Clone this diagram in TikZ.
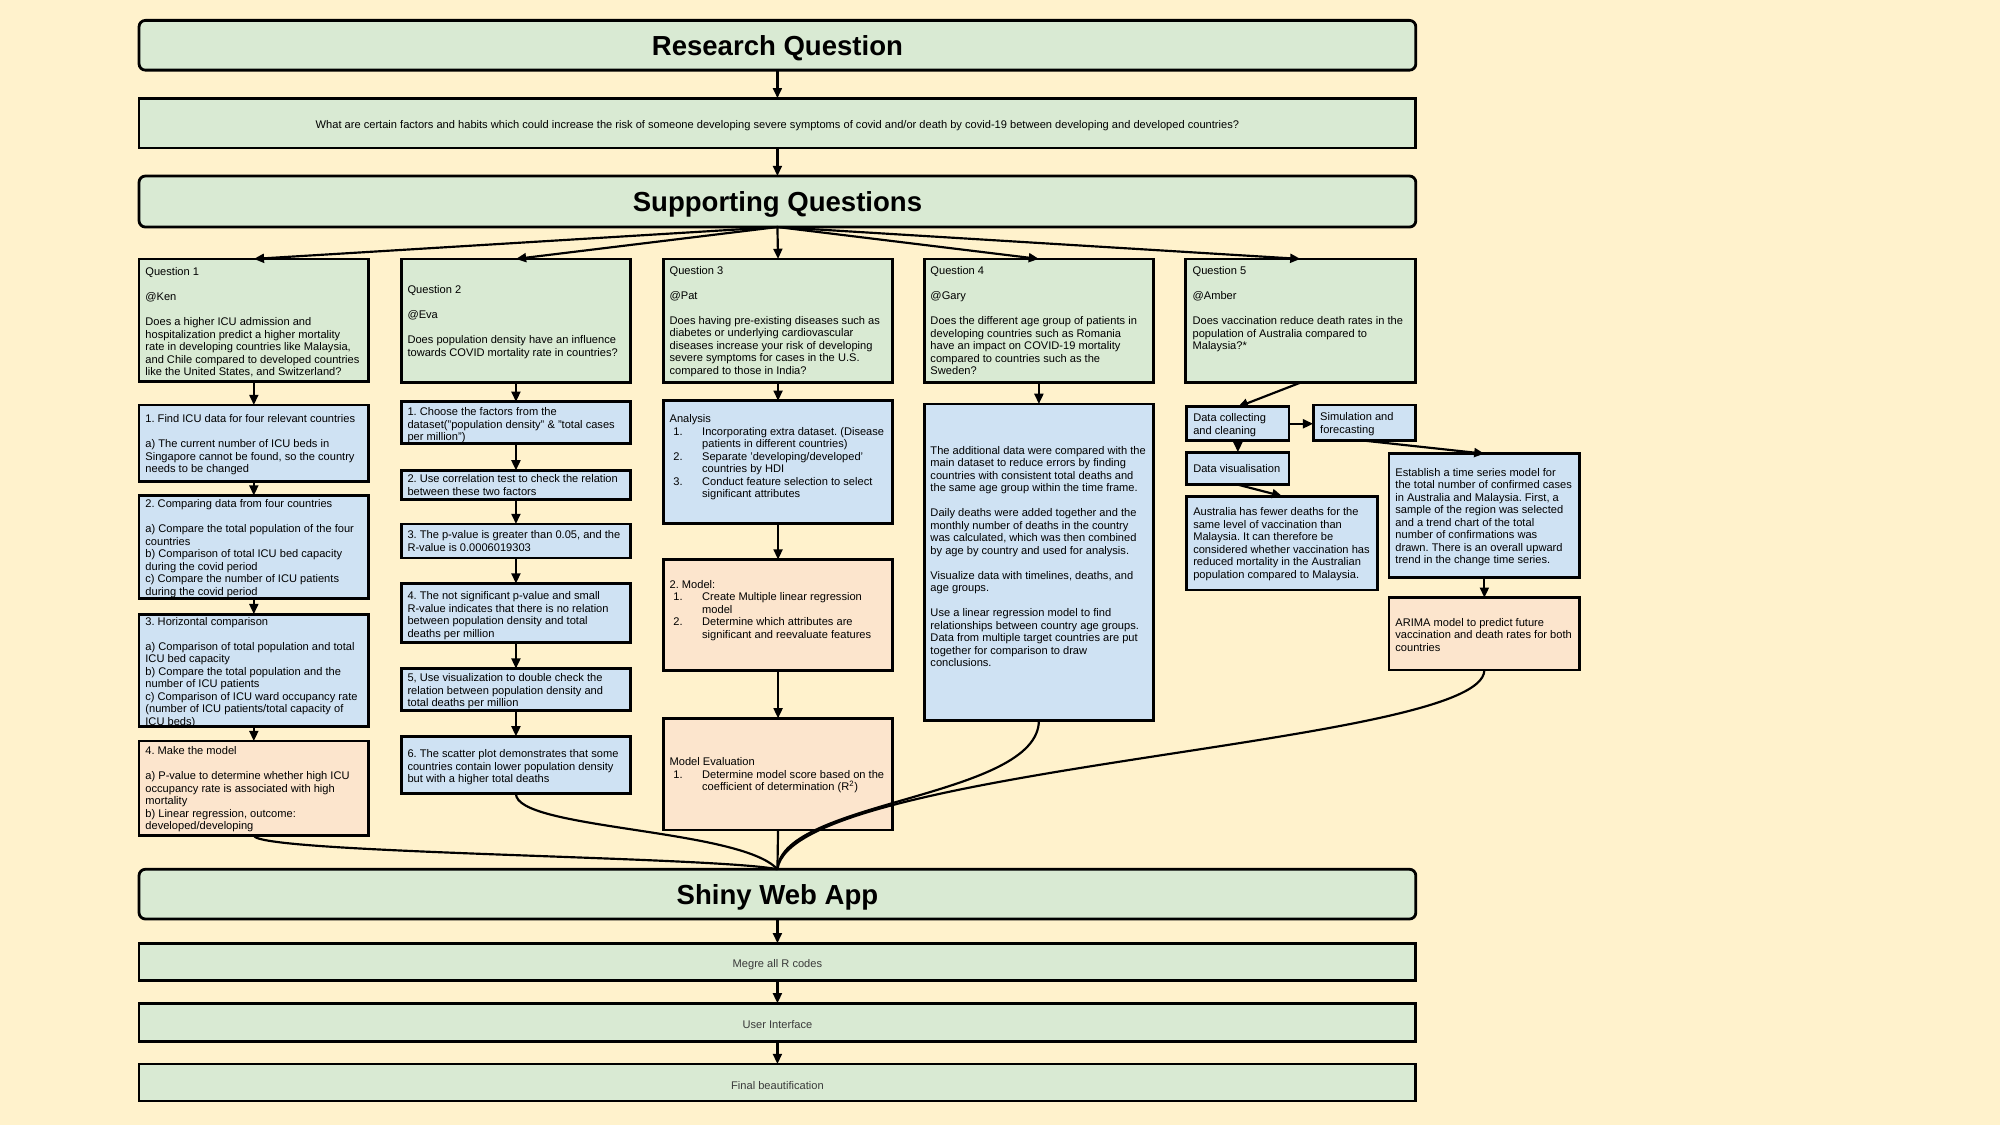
\documentclass[tikz,border=0pt]{standalone}
\usepackage{fontspec}
\setmainfont{Liberation Sans}
\usetikzlibrary{arrows.meta,calc}
\definecolor{bgc}{HTML}{FFF2CC}
\definecolor{cg}{HTML}{D9EAD3}
\definecolor{cb}{HTML}{CFE2F3}
\definecolor{co}{HTML}{FCE5CD}
\definecolor{gtx}{HTML}{3A3A3A}
\newcommand\bodyfs{\fontsize{8.7}{9.8}\selectfont\frenchspacing}
\newcommand\smallfs{\fontsize{8.7}{9.8}\selectfont\frenchspacing}
\newcommand\titlefs{\fontsize{21.6}{24}\selectfont\bfseries}
\newcommand\li[1]{\hspace*{3pt}\makebox[22.5pt][l]{#1}}
\newcommand\lc{\hspace*{25.5pt}}
\newcommand\sq{{\char"27}}
\newcommand\dq{{\char"22}}
\begin{document}
\begin{tikzpicture}[x=1pt,y=-1pt,
  bx/.style={draw=black, line width=2.2pt, anchor=north west, inner sep=0pt, outer sep=0pt},
  rbx/.style={bx, rounded corners=5pt},
  tx/.style={anchor=north west, inner sep=0pt, outer sep=0pt, align=left, font=\bodyfs, text=black},
  ttl/.style={font=\titlefs, yshift=-2.5pt},
  ctx/.style={font=\smallfs, yshift=-2pt},
  ar/.style={-{Triangle[length=8pt,width=7pt]}, line width=1.7pt},
  ln/.style={line width=1.7pt},
]
\fill[bgc] (0,0) rectangle (1568,882);
\useasboundingbox (0,0) rectangle (1568,882);

% top boxes
\node[rbx, fill=cg, minimum width=1001pt, minimum height=39pt] (rq) at (109,16) {};
\node[ttl] (rqt) at (rq.center) {Research Question};
\node[bx, fill=cg, minimum width=1001pt, minimum height=39pt] (mq) at (109,77) {};
\node[ctx] (mqt) at (mq.center) {What are certain factors and habits which could increase the risk of someone developing severe symptoms of covid and/or death by covid-19 between developing and developed countries?};
\node[rbx, fill=cg, minimum width=1001pt, minimum height=40pt] (sq) at (109,138) {};
\node[ttl] (sqt) at (sq.center) {Supporting Questions};

% question boxes
\node[bx, fill=cg, minimum width=180pt, minimum height=96pt] (q1) at (109,203) {};
\node[bx, fill=cg, minimum width=180pt, minimum height=97pt] (q2) at (314.5,203) {};
\node[bx, fill=cg, minimum width=180pt, minimum height=97pt] (q3) at (520,203) {};
\node[bx, fill=cg, minimum width=180pt, minimum height=97pt] (q4) at (724.5,203) {};
\node[bx, fill=cg, minimum width=180pt, minimum height=97pt] (q5) at (929.5,203) {};

\node[tx] (q1t) at (114,209.9) {Question 1\\[9.8pt]@Ken\\[9.8pt]Does a higher ICU admission and\\hospitalization predict a higher mortality\\rate in developing countries like Malaysia,\\and Chile compared to developed countries\\like the United States, and Switzerland?};
\node[tx] (q2t) at (319.5,223.9) {Question 2\\[9.8pt]@Eva\\[9.8pt]Does population density have an influence\\towards COVID mortality rate in countries?};
\node[tx] (q3t) at (525,208.7) {Question 3\\[9.8pt]@Pat\\[9.8pt]Does having pre-existing diseases such as\\diabetes or underlying cardiovascular\\diseases increase your risk of developing\\severe symptoms for cases in the U.S.\\compared to those in India?};
\node[tx] (q4t) at (729.5,209) {Question 4\\[9.8pt]@Gary\\[9.8pt]Does the different age group of patients in\\developing countries such as Romania\\have an impact on COVID-19 mortality\\compared to countries such as the\\Sweden?};
\node[tx] (q5t) at (935,209) {Question 5\\[9.8pt]@Amber\\[9.8pt]Does vaccination reduce death rates in the\\population of Australia compared to\\Malaysia?*};

% column 1
\node[bx, fill=cb, minimum width=180pt, minimum height=60pt] (a1) at (109,317.5) {};
\node[bx, fill=cb, minimum width=180pt, minimum height=81pt] (a2) at (109,388.5) {};
\node[bx, fill=cb, minimum width=180pt, minimum height=88pt] (a3) at (109,481.5) {};
\node[bx, fill=co, minimum width=180pt, minimum height=74pt] (a4) at (109,581) {};
\node[tx] (a1t) at (114,325) {1. Find ICU data for four relevant countries\\[9.8pt]a) The current number of ICU beds in\\Singapore cannot be found, so the country\\needs to be changed};
\node[tx] (a2t) at (114,391.7) {2. Comparing data from four countries\\[9.8pt]a) Compare the total population of the four\\countries\\b) Comparison of total ICU bed capacity\\during the covid period\\c) Compare the number of ICU patients\\during the covid period};
\node[tx] (a3t) at (114,483.7) {3. Horizontal comparison\\[9.8pt]a) Comparison of total population and total\\ICU bed capacity\\b) Compare the total population and the\\number of ICU patients\\c) Comparison of ICU ward occupancy rate\\(number of ICU patients/total capacity of\\ICU beds)};
\node[tx] (a4t) at (114,585.5) {4. Make the model\\[9.8pt]a) P-value to determine whether high ICU\\occupancy rate is associated with high\\mortality\\b) Linear regression, outcome:\\developed/developing};

% column 2
\node[bx, fill=cb, minimum width=180pt, minimum height=33pt] (b1) at (314.5,315) {};
\node[bx, fill=cb, minimum width=180pt, minimum height=23pt] (b2) at (314.5,368.8) {};
\node[bx, fill=cb, minimum width=180pt, minimum height=26.6pt] (b3) at (314.5,410.8) {};
\node[bx, fill=cb, minimum width=180pt, minimum height=46pt] (b4) at (314.5,457.5) {};
\node[bx, fill=cb, minimum width=180pt, minimum height=33pt] (b5) at (314.5,524.2) {};
\node[bx, fill=cb, minimum width=180pt, minimum height=45pt] (b6) at (314.5,577.3) {};
\node[tx] (b1t) at (319.5,319.5) {1. Choose the factors from the\\dataset(\dq population density\dq\ \& \dq total cases\\per million\dq)};
\node[tx] (b2t) at (319.5,372.3) {2. Use correlation test to check the relation\\between these two factors};
\node[tx] (b3t) at (319.5,416.2) {3. The p-value is greater than 0.05, and the\\R-value is 0.0006019303};
\node[tx] (b4t) at (319.5,463.8) {4. The not significant p-value and small\\R-value indicates that there is no relation\\between population density and total\\deaths per million};
\node[tx] (b5t) at (319.5,528.2) {5, Use visualization to double check the\\relation between population density and\\total deaths per million};
\node[tx] (b6t) at (319.5,587.9) {6. The scatter plot demonstrates that some\\countries contain lower population density\\but with a higher total deaths};

% column 3
\node[bx, fill=cb, minimum width=180pt, minimum height=96pt] (an) at (520,314.2) {};
\node[bx, fill=co, minimum width=180pt, minimum height=87pt] (mo) at (520,438.7) {};
\node[bx, fill=co, minimum width=180pt, minimum height=87.5pt] (ev) at (520,563.2) {};
\node[tx] (ant) at (525,325.1) {Analysis\\\li{1.}Incorporating extra dataset. (Disease\\\lc patients in different countries)\\\li{2.}Separate \sq developing/developed\sq\\\lc countries by HDI\\\li{3.}Conduct feature selection to select\\\lc significant attributes};
\node[tx] (mot) at (525,454.7) {2. Model:\\\li{1.}Create Multiple linear regression\\\lc model\\\li{2.}Determine which attributes are\\\lc significant and reevaluate features};
\node[tx] (evt) at (525,594.2) {Model Evaluation\\\li{1.}Determine model score based on the\\\lc coefficient of determination (R\textsuperscript{2})};

% column 4
\node[bx, fill=cb, minimum width=180pt, minimum height=248pt] (c1) at (724.5,316.7) {};
\node[tx] (c1t) at (729.5,349.8) {The additional data were compared with the\\main dataset to reduce errors by finding\\countries with consistent total deaths and\\the same age group within the time frame.\\[9.8pt]Daily deaths were added together and the\\monthly number of deaths in the country\\was calculated, which was then combined\\by age by country and used for analysis.\\[9.8pt]Visualize data with timelines, deaths, and\\age groups.\\[9.8pt]Use a linear regression model to find\\relationships between country age groups.\\Data from multiple target countries are put\\together for comparison to draw\\conclusions.};

% column 5
\node[bx, fill=cb, minimum width=80pt, minimum height=26.5pt] (dc) at (930.5,319) {};
\node[bx, fill=cb, minimum width=80.5pt, minimum height=28pt] (sim) at (1029.5,317.5) {};
\node[bx, fill=cb, minimum width=80pt, minimum height=25.5pt] (dv) at (930.5,354.5) {};
\node[bx, fill=cb, minimum width=149.5pt, minimum height=73.5pt] (au) at (930.5,389) {};
\node[bx, fill=cb, minimum width=149.5pt, minimum height=97pt] (est) at (1089,355.7) {};
\node[bx, fill=co, minimum width=149.5pt, minimum height=56.7pt] (arm) at (1089,468.6) {};
\node[tx] (dct) at (935.5,324.5) {Data collecting\\and cleaning};
\node[tx] (simt) at (1035,323.5) {Simulation and\\forecasting};
\node[tx] (dvt) at (935.5,364.5) {Data visualisation};
\node[tx] (aut) at (935.5,397.9) {Australia has fewer deaths for the\\same level of vaccination than\\Malaysia. It can therefore be\\considered whether vaccination has\\reduced mortality in the Australian\\population compared to Malaysia.};
\node[tx] (estt) at (1094,367.1) {Establish a time series model for\\the total number of confirmed cases\\in Australia and Malaysia. First, a\\sample of the region was selected\\and a trend chart of the total\\number of confirmations was\\drawn. There is an overall upward\\trend in the change time series.};
\node[tx] (armt) at (1094,484.7) {ARIMA model to predict future\\vaccination and death rates for both\\countries};

% bottom boxes
\node[rbx, fill=cg, minimum width=1001pt, minimum height=39pt] (sh) at (109,681.5) {};
\node[ttl] (sht) at (sh.center) {Shiny Web App};
\node[bx, fill=cg, minimum width=1001pt, minimum height=29pt] (mg) at (109,739.5) {};
\node[ctx, text=gtx] (mgt) at (mg.center) {Megre all R codes};
\node[bx, fill=cg, minimum width=1001pt, minimum height=30pt] (ui) at (109,786.6) {};
\node[ctx, text=gtx] (uit) at (ui.center) {User Interface};
\node[bx, fill=cg, minimum width=1001pt, minimum height=29pt] (fb) at (109,834.2) {};
\node[ctx, text=gtx] (fbt) at (fb.center) {Final beautification};

% connectors top
\draw[ar] (rq.south) -- (mq.north);
\draw[ar] (mq.south) -- (sq.north);
\foreach \q in {q1,q2,q3,q4,q5} \draw[ar] (sq.south) -- (\q.north);

% column 1
\draw[ar] (q1.south) -- (a1.north);
\draw[ar] (a1.south) -- (a2.north);
\draw[ar] (a2.south) -- (a3.north);
\draw[ar] (a3.south) -- (a4.north);
% column 2
\draw[ar] (q2.south) -- (b1.north);
\draw[ar] (b1.south) -- (b2.north);
\draw[ar] (b2.south) -- (b3.north);
\draw[ar] (b3.south) -- (b4.north);
\draw[ar] (b4.south) -- (b5.north);
\draw[ar] (b5.south) -- (b6.north);
% column 3
\draw[ar] (q3.south) -- (an.north);
\draw[ar] (an.south) -- (mo.north);
\draw[ar] (mo.south) -- (ev.north);
% column 4
\draw[ar] (q4.south) -- (c1.north);
% column 5
\draw[ar] (q5.south) -- (dc.north);
\draw[ar] (dc.east) -- (dc.east -| sim.west);
\draw[ar] (dc.south) -- (dv.north);
\draw[ar] (dv.south) -- (au.north);
\draw[ar] (sim.south) -- (est.north);
\draw[ar] (est.south) -- (arm.north);

% to Shiny
\draw[ln] (a4.south) .. controls +(0,14) and +(-49,-10) .. (sh.north);
\draw[ln] (b6.south) .. controls +(0,28) and +(-29,-32) .. (sh.north);
\draw[ln] (ev.south) -- (sh.north);
\draw[ln] (c1.south) .. controls +(0,61) and +(3,-54) .. (sh.north);
\draw[ln] (arm.south) .. controls +(0,60) and +(11,-82) .. (sh.north);

% bottom chain
\draw[ar] (sh.south) -- (mg.north);
\draw[ar] (mg.south) -- (ui.north);
\draw[ar] (ui.south) -- (fb.north);
\end{tikzpicture}
\end{document}
